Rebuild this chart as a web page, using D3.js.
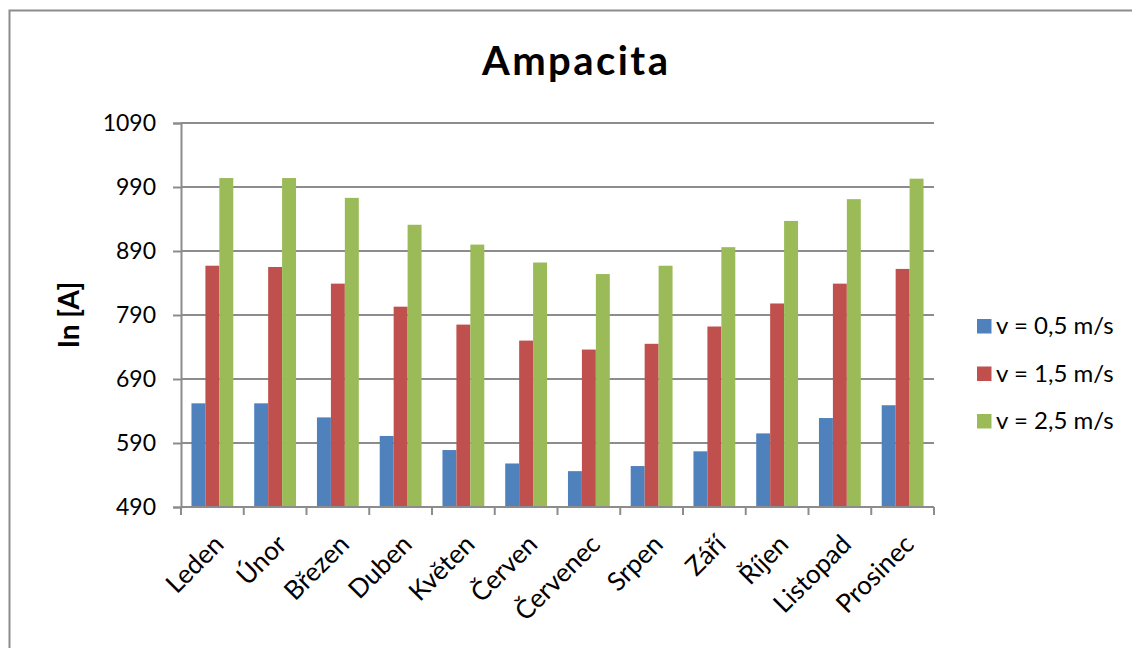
<!DOCTYPE html>
<html>
<head>
<meta charset="utf-8">
<script src="https://cdn.jsdelivr.net/npm/d3@7"></script>
<style>
  html, body { margin: 0; padding: 0; background: #fff; }
  svg { display: block; font-family: Lato, "Open Sans", sans-serif; }
</style>
</head>
<body>
<svg id="chart" width="1132" height="648"></svg>
<script>
// Monthly ampacity of the conductor for three wind speeds
const months = ["Leden", "Únor", "Březen", "Duben", "Květen", "Červen",
                "Červenec", "Srpen", "Září", "Říjen", "Listopad", "Prosinec"];
const seriesNames = ["v = 0,5 m/s", "v = 1,5 m/s", "v = 2,5 m/s"];
const wind05 = [652, 652, 630, 601, 579, 558, 546, 554, 577, 605, 629, 649];
const wind15 = [867, 865, 839, 803, 775, 750, 736, 745, 772, 808, 839, 862];
const wind25 = [1004, 1004, 973, 931, 900, 872, 854, 867, 896, 937, 971, 1003];
const yTicks = [490, 590, 690, 790, 890, 990, 1090];
const colors = ["#4f81bd", "#c0504d", "#9bbb59"];

const series = [wind05, wind15, wind25];

const svg = d3.select("#chart");
const plot = { left: 181, right: 934, top: 123, bottom: 507 };

// chart frame
svg.append("rect")
  .attr("x", 9.5).attr("y", 10.5)
  .attr("width", 1140).attr("height", 660)
  .attr("fill", "none").attr("stroke", "#8c8c8c").attr("stroke-width", 2);

const x = d3.scaleBand().domain(months)
  .range([plot.left, plot.right]).paddingInner(0).paddingOuter(0);
const inner = d3.scaleBand().domain(d3.range(series.length))
  .range([0, x.bandwidth()]).paddingInner(0).paddingOuter(0.75);
const y = d3.scaleLinear().domain([490, 1090]).range([plot.bottom, plot.top]);

// horizontal gridlines
svg.append("g").selectAll("line").data(yTicks).join("line")
  .attr("x1", plot.left).attr("x2", plot.right)
  .attr("y1", d => y(d)).attr("y2", d => y(d))
  .attr("stroke", "#8c8c8c").attr("stroke-width", 2);

// bars
series.forEach((vals, si) => {
  svg.append("g").selectAll("rect").data(vals).join("rect")
    .attr("x", (d, i) => x(months[i]) + inner(si))
    .attr("width", inner.bandwidth())
    .attr("y", d => y(d))
    .attr("height", d => y(490) - y(d))
    .attr("fill", colors[si]);
});

// y axis
const yAxis = svg.append("g")
  .attr("transform", `translate(${plot.left},0)`)
  .call(d3.axisLeft(y).tickValues(yTicks).tickFormat(d3.format("d"))
    .tickSize(8).tickPadding(17));
yAxis.select(".domain").attr("stroke", "#8c8c8c").attr("stroke-width", 2);
yAxis.selectAll(".tick line").attr("stroke", "#8c8c8c").attr("stroke-width", 2);
yAxis.selectAll(".tick text")
  .attr("font-family", "Lato, sans-serif").attr("font-size", 23)
  .attr("fill", "#000");

// x axis with boundary ticks between categories
const xAxis = svg.append("g").attr("transform", `translate(0,${plot.bottom})`);
xAxis.append("line")
  .attr("x1", plot.left).attr("x2", plot.right)
  .attr("stroke", "#8c8c8c").attr("stroke-width", 2);
const bounds = months.map(m => x(m)).concat([plot.right]);
xAxis.selectAll("line.tk").data(bounds).join("line").attr("class", "tk")
  .attr("x1", d => d).attr("x2", d => d)
  .attr("y1", 0).attr("y2", 8)
  .attr("stroke", "#8c8c8c").attr("stroke-width", 2);
xAxis.selectAll("text").data(months).join("text")
  .attr("transform", d => `translate(${x(d) + x.bandwidth() / 2 + 13},${39}) rotate(-45)`)
  .attr("text-anchor", "end")
  .attr("font-family", "Lato, sans-serif").attr("font-size", 26)
  .attr("fill", "#000")
  .text(d => d);

// title
svg.append("text")
  .attr("x", 575).attr("y", 75)
  .attr("text-anchor", "middle")
  .attr("font-family", "Lato, sans-serif").attr("font-weight", "bold")
  .attr("font-size", 40)
  .attr("textLength", 186).attr("lengthAdjust", "spacing")
  .text("Ampacita");

// y axis title
svg.append("text")
  .attr("transform", "translate(79,315) rotate(-90)")
  .attr("text-anchor", "middle")
  .attr("font-family", "Lato, sans-serif").attr("font-weight", "bold")
  .attr("font-size", 28)
  .text("In [A]");

// legend
const legend = svg.append("g");
seriesNames.forEach((name, i) => {
  const ly = 319 + i * 47.5;
  legend.append("rect")
    .attr("x", 977).attr("y", ly)
    .attr("width", 14.5).attr("height", 14.5)
    .attr("fill", colors[i]);
  legend.append("text")
    .attr("x", 996).attr("y", ly + 15)
    .attr("font-family", "Lato, sans-serif").attr("font-size", 24)
    .attr("fill", "#000")
    .text(name);
});
</script>
</body>
</html>
